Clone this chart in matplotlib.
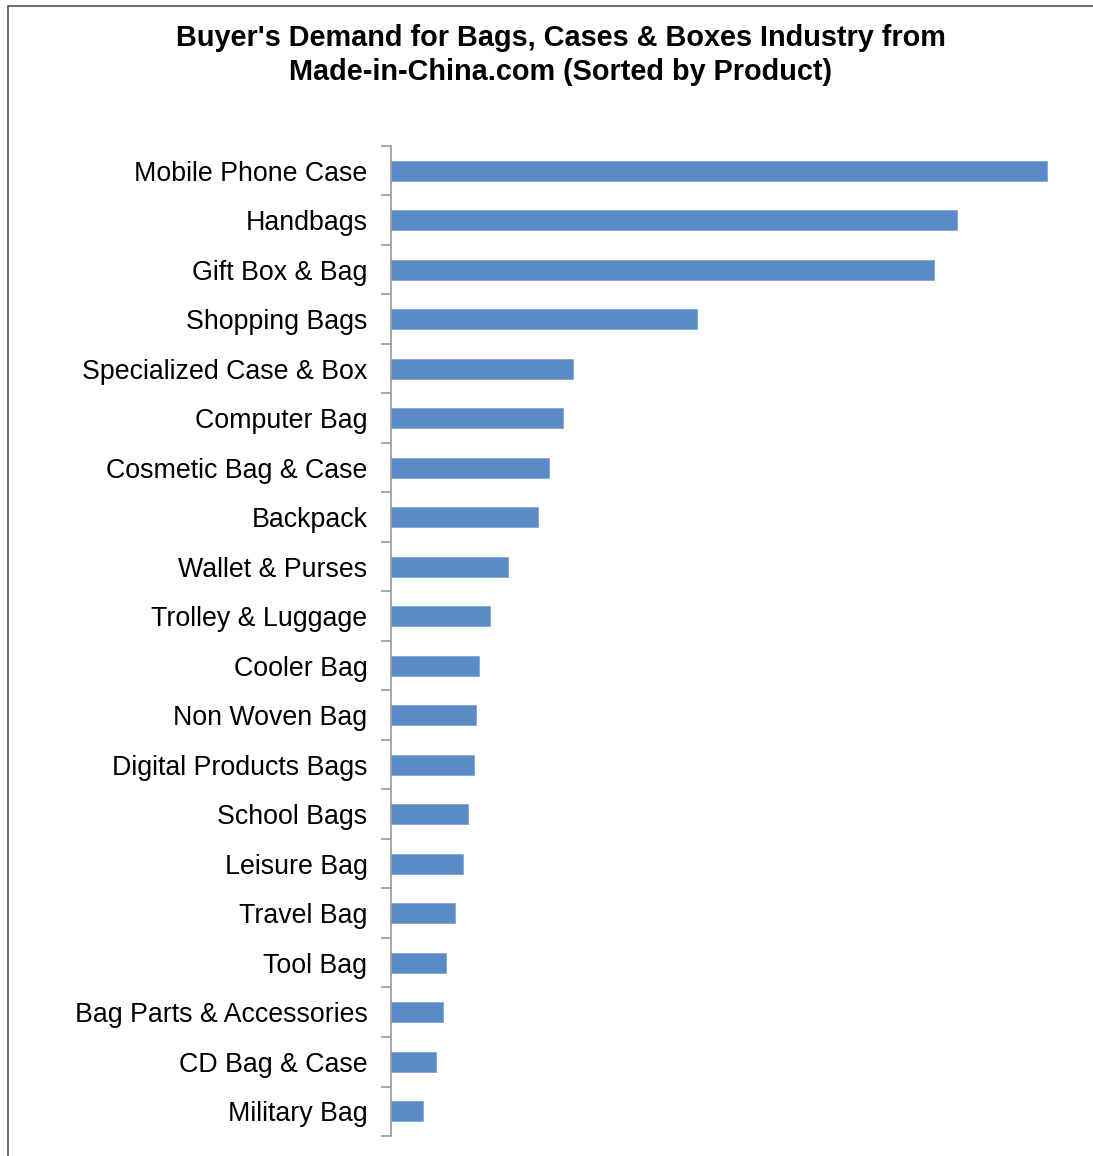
import matplotlib
matplotlib.use("Agg")
import matplotlib.pyplot as plt
from matplotlib.patches import Rectangle
import numpy as np

categories = ["Mobile Phone Case", "Handbags", "Gift Box & Bag", "Shopping Bags",
              "Specialized Case & Box", "Computer Bag", "Cosmetic Bag & Case", "Backpack",
              "Wallet & Purses", "Trolley & Luggage", "Cooler Bag", "Non Woven Bag",
              "Digital Products Bags", "School Bags", "Leisure Bag", "Travel Bag",
              "Tool Bag", "Bag Parts & Accessories", "CD Bag & Case", "Military Bag"]
values = [656, 566, 543, 306, 182, 172, 158, 147, 117, 99, 88, 85, 83, 77, 72, 64, 55, 52, 45, 32]

plt.rcParams['font.family'] = ['Liberation Sans', 'DejaVu Sans']

W, H = 1093, 1156
fig = plt.figure(figsize=(W/100, H/100), dpi=100)

# outer border
fig.patches.append(Rectangle((8/W, -0.01), 1.1, 1 - 6/H + 0.01, transform=fig.transFigure,
                             fill=False, edgecolor='#555555', linewidth=1.2))

ax_left, ax_right = 391, 1083
ax_top, ax_bottom = 146, 1136
ax = fig.add_axes([ax_left/W, 1 - ax_bottom/H, (ax_right-ax_left)/W, (ax_bottom-ax_top)/H])

n = len(categories)
y = np.arange(n)
ax.barh(y, values, height=0.4, color='#5B8BC6', edgecolor='#7FA6D6', linewidth=0.6)
ax.set_xlim(0, ax_right - ax_left)
ax.set_ylim(n - 0.5, -0.5)

ax.set_yticks(y)
ax.set_yticklabels(categories, fontsize=19.3)
ax.set_yticks(np.arange(-0.5, n, 1), minor=True)
ax.tick_params(axis='y', which='major', length=0, pad=17)
ax.tick_params(axis='y', which='minor', length=7, color='#999999', width=1.2)
ax.set_xticks([])
for s in ['top', 'right', 'bottom']:
    ax.spines[s].set_visible(False)
ax.spines['left'].set_color('#999999')
ax.spines['left'].set_linewidth(1.2)

fig.text(561/W, 1 - 38/H, "Buyer's Demand for Bags, Cases & Boxes Industry from",
         ha='center', va='center', fontsize=20.8, fontweight='bold')
fig.text(561/W, 1 - 72/H, "Made-in-China.com (Sorted by Product)",
         ha='center', va='center', fontsize=20.8, fontweight='bold')

fig.savefig("out.png", dpi=100)
